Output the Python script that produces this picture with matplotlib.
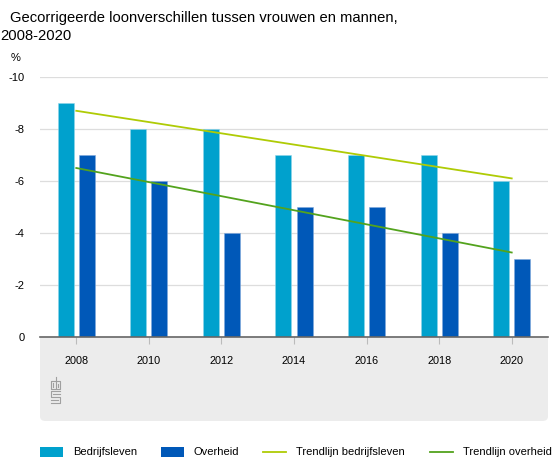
import numpy as np
import matplotlib
matplotlib.use("Agg")
import matplotlib.pyplot as plt
from matplotlib.patches import FancyBboxPatch, Rectangle
from matplotlib.lines import Line2D

plt.rcParams['font.family'] = ['Liberation Sans', 'DejaVu Sans']

# === data ===
years = ["2008", "2010", "2012", "2014", "2016", "2018", "2020"]
bedrijfsleven = [-9, -8, -8, -7, -7, -7, -6]
overheid = [-7, -6, -4, -5, -5, -4, -3]
# trendlijnen: begin- en eindwaarde (2008, 2020)
trend_bedrijfsleven = [-8.7, -6.1]
trend_overheid = [-6.5, -3.25]
yticks = [0, -2, -4, -6, -8, -10]

c_bedrijf = "#00a1cd"
c_overheid = "#0058b8"
c_trend_b = "#afcb05"
c_trend_o = "#53a31d"

W, H = 555, 462
fig = plt.figure(figsize=(W / 100, H / 100), dpi=100)

def fx(px):
    return px / W

def fy(py):
    return 1 - py / H

ax = fig.add_axes([fx(40), fy(337), fx(548) - fx(40), fy(77) - fy(337)])

x = np.arange(len(years))
bw = 0.22
off = 0.145
ax.bar(x - off, bedrijfsleven, bw, color=c_bedrijf, edgecolor="#8fd6ea", linewidth=0.4, zorder=3)
ax.bar(x + off, overheid, bw, color=c_overheid, edgecolor="#7fa8dc", linewidth=0.4, zorder=3)
ax.plot([x[0], x[-1]], trend_bedrijfsleven, color=c_trend_b, lw=1.3, zorder=4)
ax.plot([x[0], x[-1]], trend_overheid, color=c_trend_o, lw=1.3, zorder=4)

ax.set_xlim(-0.5, len(years) - 0.5)
ax.set_ylim(0, -10)
ax.set_yticks(yticks)
ax.set_yticklabels([str(v) for v in yticks], fontsize=8)
ax.tick_params(axis="y", length=0, pad=11)
ax.set_xticks(x)
ax.set_xticklabels(years, fontsize=7.8)
ax.tick_params(axis="x", length=5, color="#bbbbbb", width=0.8, pad=9)
ax.grid(axis="y", color="#dddddd", lw=0.9, zorder=0)
for s in ["top", "right", "left"]:
    ax.spines[s].set_visible(False)
ax.spines["bottom"].set_color("#666666")
ax.spines["bottom"].set_linewidth(1.2)
ax.spines["bottom"].set_zorder(5)

# grijs vlak onder de as
box = FancyBboxPatch((fx(40), fy(421)), fx(548) - fx(40), fy(330) - fy(421),
                     boxstyle="round,pad=0,rounding_size=0.01",
                     transform=fig.transFigure, facecolor="#ececec",
                     edgecolor="none", zorder=-1)
fig.patches.append(box)

# cbs logo (vereenvoudigd)
lg = "#a0a0a0"
segs = [
    # c
    [(55, 381), (51, 381), (51, 389), (55, 389)],
    [(53, 383), (53, 387)],
    # b
    [(56, 377), (56, 389), (60, 389), (60, 381), (56, 381)],
    [(58, 384), (58, 387)],
    # s
    [(60, 391), (51, 391), (51, 397), (60, 397), (60, 403), (51, 403)],
    [(53, 394), (60, 394)], [(51, 400), (58, 400)],
]
for sg in segs:
    xs = [fx(p[0]) for p in sg]
    ys = [fy(p[1]) for p in sg]
    fig.add_artist(Line2D(xs, ys, color=lg, lw=0.8, transform=fig.transFigure))

fig.text(fx(10), fy(22), "Gecorrigeerde loonverschillen tussen vrouwen en mannen,",
         fontsize=10.6, va="baseline", ha="left")
fig.text(fx(0), fy(40), "2008-2020", fontsize=10.6, va="baseline", ha="left")
fig.text(fx(11), fy(61), "%", fontsize=8, va="baseline", ha="left")

# legenda, handmatig geplaatst
ly = 452
legend_items = [
    ("patch", c_bedrijf, 40, "Bedrijfsleven"),
    ("patch", c_overheid, 161, "Overheid"),
    ("line", c_trend_b, 263, "Trendlijn bedrijfsleven"),
    ("line", c_trend_o, 430, "Trendlijn overheid"),
]
for kind, col, px0, label in legend_items:
    if kind == "patch":
        fig.patches.append(Rectangle((fx(px0), fy(ly + 5)), fx(23), 10 / H,
                                     transform=fig.transFigure, facecolor=col,
                                     edgecolor="none"))
    else:
        fig.add_artist(Line2D([fx(px0), fx(px0 + 23)], [fy(ly), fy(ly)],
                              color=col, lw=1.3, transform=fig.transFigure))
    fig.text(fx(px0 + 33), fy(ly), label, fontsize=8, va="center", ha="left")

fig.savefig("out.png", dpi=100)
